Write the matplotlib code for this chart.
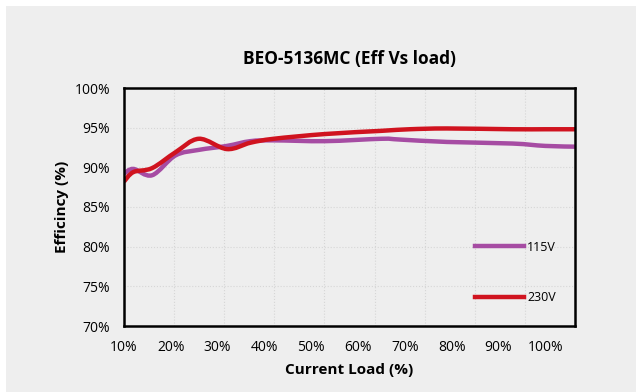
import matplotlib
matplotlib.use("Agg")
import matplotlib.pyplot as plt
from matplotlib.patches import Rectangle, PathPatch
from matplotlib.path import Path
from matplotlib.lines import Line2D

plt.rcParams['font.family'] = ['Open Sans', 'DejaVu Sans']

# load (%) and efficiency (%)
load_115 = [10, 12, 16, 21, 26, 32, 37, 42, 53, 65, 69, 79, 93, 100, 107]
eff_115 = [89.2, 89.8, 89.0, 91.5, 92.2, 92.7, 93.3, 93.4, 93.3, 93.6, 93.5, 93.2, 93.0, 92.7, 92.6]

load_230 = [10, 12, 16, 21, 26, 32, 37, 42, 53, 65, 71, 79, 93, 100, 107]
eff_230 = [88.2, 89.4, 89.9, 91.9, 93.6, 92.3, 93.1, 93.6, 94.2, 94.6, 94.8, 94.9, 94.8, 94.8, 94.8]

x_ticks = [10, 20, 30, 40, 50, 60, 70, 80, 90, 100]
y_ticks = [70, 75, 80, 85, 90, 95, 100]


def smooth_path(xs, ys):
    # Excel-style smoothed line: cubic bezier through every point
    verts = [(xs[0], ys[0])]
    codes = [Path.MOVETO]
    n = len(xs)
    for i in range(n - 1):
        x0, y0 = xs[max(i - 1, 0)], ys[max(i - 1, 0)]
        x1, y1 = xs[i], ys[i]
        x2, y2 = xs[i + 1], ys[i + 1]
        x3, y3 = xs[min(i + 2, n - 1)], ys[min(i + 2, n - 1)]
        c1 = (x1 + (x2 - x0) / 6, y1 + (y2 - y0) / 6)
        c2 = (x2 - (x3 - x1) / 6, y2 - (y3 - y1) / 6)
        verts += [c1, c2, (x2, y2)]
        codes += [Path.CURVE4] * 3
    return Path(verts, codes)


bg = '#eeeeee'
fig = plt.figure(figsize=(6.36, 3.92), dpi=100, facecolor='white')
fig.patches.append(Rectangle((6 / 636, 0), 1, 1 - 6 / 392, transform=fig.transFigure,
                             facecolor=bg, edgecolor='none', zorder=-1))
ax = fig.add_axes([124 / 636, 1 - 326 / 392, 451 / 636, 238 / 392])
ax.set_facecolor(bg)

series = [('115V', load_115, eff_115, '#a64ca3'),
          ('230V', load_230, eff_230, '#d0131f')]
handles = []
for name, xs, ys, c in series:
    ax.add_patch(PathPatch(smooth_path(xs, ys), facecolor='none', edgecolor=c,
                           lw=3.2, capstyle='butt', clip_on=True))
    handles.append(Line2D([], [], color=c, lw=3.2, label=name))

x_max = 10 + (575 - 123) / 4.69
ax.set_xlim(10, x_max)
ax.set_ylim(70, 100)
ax.set_xticks(x_ticks)
ax.set_xticklabels([f'{v}%' for v in x_ticks])
ax.set_yticks(y_ticks)
ax.set_yticklabels([f'{v}%' for v in y_ticks])
ax.tick_params(length=0, labelsize=10, pad=10)

# vertical grid splits the plot into 9 equal parts
step = (x_max - 10) / 9
for k in range(1, 9):
    ax.axvline(10 + k * step, color='#d6d6d6', lw=0.8, ls=':', zorder=0)
for v in y_ticks[1:-1]:
    ax.axhline(v, color='#d6d6d6', lw=0.8, ls=':', zorder=0)

for s in ax.spines.values():
    s.set_linewidth(1.8)
    s.set_color('black')

ax.set_title('BEO-5136MC (Eff Vs load)', fontsize=12.5, fontweight='bold', pad=17)
ax.set_xlabel('Current Load (%)', fontsize=11, fontweight='bold', labelpad=6)
ax.set_ylabel('Efficincy (%)', fontsize=11, fontweight='bold', labelpad=4)

ax.legend(handles=handles, loc='lower right', bbox_to_anchor=(0.975, 0.06), frameon=False,
          fontsize=9, handlelength=3.9, labelspacing=3.0, handletextpad=0.3,
          borderaxespad=0.2)

fig.savefig('out.png', dpi=100, facecolor='white')
